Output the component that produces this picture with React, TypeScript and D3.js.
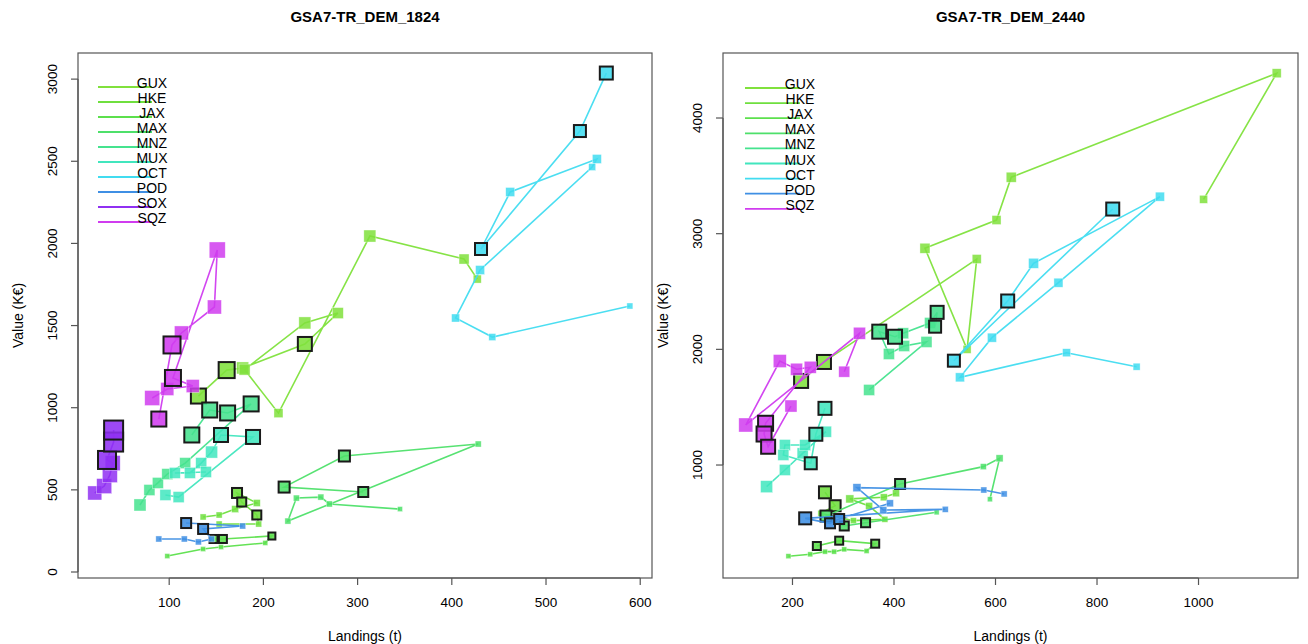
import React from 'react';
import * as d3 from 'd3';

// One point = [landings (t), value (K€), fishing effort index, recent year flag]
type Pt = [number, number, number, number];

const SPECIES = ['GUX', 'HKE', 'JAX', 'MAX', 'MNZ', 'MUX', 'OCT', 'POD', 'SOX', 'SQZ'];
const SPECIES_COLORS = ['#80e13c', '#6fdf3e', '#5ce04c', '#4ee06a', '#45e38e', '#41e6be', '#41dcf0', '#3f8fe4', '#9030f2', '#d03cef'];

// ---- Fleet segment TR_DEM_1824 ----
const GUX_1824: Pt[] = [[131, 1071, 75, 1], [161, 1229, 80, 1], [178, 1242, 60, 0], [244, 1388, 70, 1], [279, 1576, 55, 0], [244, 1516, 60, 0], [180, 1232, 55, 0], [216, 967, 45, 0], [313, 2045, 60, 0], [413, 1905, 50, 0], [427, 1783, 40, 0]];
const HKE_1824: Pt[] = [[136, 335, 30, 0], [153, 347, 30, 0], [170, 383, 35, 0], [193, 420, 35, 0], [172, 481, 50, 1], [177, 426, 45, 1], [193, 347, 45, 1], [195, 292, 30, 0], [153, 292, 30, 0]];
const JAX_1824: Pt[] = [[98, 97, 25, 0], [136, 140, 25, 0], [155, 152, 25, 0], [202, 177, 25, 0], [209, 219, 35, 1], [157, 201, 40, 1], [147, 201, 40, 1]];
const MAX_1824: Pt[] = [[345, 383, 25, 0], [270, 414, 30, 0], [261, 456, 30, 0], [235, 450, 30, 0], [226, 310, 30, 0], [428, 779, 30, 0], [286, 706, 55, 1], [222, 517, 55, 1], [306, 487, 50, 1]];
const MNZ_1824: Pt[] = [[69, 408, 60, 0], [79, 499, 55, 0], [88, 542, 55, 0], [98, 596, 55, 0], [117, 663, 55, 0], [187, 1023, 75, 1], [162, 968, 75, 1], [143, 986, 75, 1], [124, 834, 75, 1]];
const MUX_1824: Pt[] = [[96, 469, 55, 0], [110, 456, 55, 0], [189, 822, 70, 1], [155, 834, 70, 1], [145, 730, 60, 0], [134, 663, 55, 0], [122, 603, 55, 0], [106, 603, 55, 0], [139, 609, 55, 0]];
const OCT_1824: Pt[] = [[564, 3037, 65, 1], [536, 2684, 60, 1], [431, 1966, 60, 1], [462, 2313, 45, 0], [554, 2514, 45, 0], [549, 2465, 35, 0], [430, 1838, 45, 0], [404, 1546, 40, 0], [443, 1430, 35, 0], [589, 1619, 30, 0]];
const POD_1824: Pt[] = [[89, 201, 30, 0], [116, 201, 30, 0], [131, 183, 30, 0], [145, 201, 30, 0], [136, 262, 50, 1], [178, 280, 30, 0], [118, 298, 50, 1]];
const SOX_1824: Pt[] = [[21, 481, 70, 0], [31, 523, 75, 0], [37, 590, 75, 0], [40, 663, 75, 0], [34, 682, 90, 1], [41, 791, 95, 1], [41, 864, 95, 1]];
const SQZ_1824: Pt[] = [[82, 1059, 75, 0], [98, 1114, 65, 0], [125, 1132, 65, 0], [104, 1181, 80, 1], [151, 1960, 80, 0], [148, 1613, 70, 0], [113, 1455, 70, 0], [103, 1382, 85, 1], [89, 931, 75, 1]];

// ---- Fleet segment TR_DEM_2440 ----
const GUX_2440: Pt[] = [[217, 1727, 70, 1], [262, 1891, 70, 1], [563, 2781, 45, 0], [544, 2000, 40, 0], [461, 2874, 50, 0], [602, 3118, 45, 0], [631, 3488, 50, 0], [1154, 4387, 45, 0], [1010, 3297, 40, 0]];
const HKE_2440: Pt[] = [[264, 764, 60, 1], [284, 648, 55, 1], [256, 583, 30, 0], [320, 519, 30, 0], [382, 531, 30, 0], [351, 646, 35, 0], [313, 707, 40, 0], [380, 721, 35, 0], [404, 756, 35, 0]];
const JAX_2440: Pt[] = [[192, 212, 25, 0], [235, 228, 25, 0], [264, 251, 25, 0], [282, 251, 25, 0], [302, 271, 25, 0], [346, 257, 25, 0], [363, 320, 40, 1], [292, 346, 40, 1], [248, 300, 40, 1]];
const MAX_2440: Pt[] = [[589, 704, 25, 0], [608, 1058, 35, 0], [576, 986, 30, 0], [412, 836, 50, 1], [266, 559, 55, 1], [302, 473, 45, 1], [344, 501, 45, 1], [484, 591, 25, 0]];
const MNZ_2440: Pt[] = [[351, 1649, 55, 0], [464, 2064, 55, 0], [420, 2029, 55, 0], [390, 1960, 55, 0], [371, 2153, 70, 1], [402, 2109, 70, 1], [418, 2139, 55, 0], [471, 2228, 55, 0], [485, 2320, 65, 1], [481, 2196, 60, 1]];
const MUX_2440: Pt[] = [[149, 813, 60, 0], [185, 957, 55, 0], [220, 1101, 55, 0], [266, 1288, 55, 0], [225, 1173, 55, 0], [185, 1173, 55, 0], [182, 1087, 55, 0], [236, 1015, 60, 1], [246, 1266, 65, 1], [264, 1490, 65, 1]];
const OCT_2440: Pt[] = [[878, 1850, 35, 0], [740, 1971, 40, 0], [530, 1758, 45, 0], [593, 2101, 45, 0], [724, 2576, 45, 0], [924, 3320, 45, 0], [675, 2744, 50, 0], [624, 2418, 65, 1], [518, 1902, 60, 1], [831, 3213, 65, 1]];
const POD_2440: Pt[] = [[617, 750, 30, 0], [577, 784, 30, 0], [327, 804, 40, 0], [379, 611, 35, 0], [501, 617, 30, 0], [225, 539, 60, 1], [274, 496, 50, 1], [292, 533, 50, 1], [392, 669, 35, 0]];
const SQZ_2440: Pt[] = [[302, 1807, 55, 0], [332, 2139, 60, 0], [108, 1346, 70, 0], [175, 1899, 65, 0], [208, 1828, 60, 0], [235, 1845, 60, 0], [147, 1361, 75, 1], [144, 1268, 75, 1], [152, 1158, 70, 1], [197, 1510, 60, 0]];

const X_TICKS_1824 = [100, 200, 300, 400, 500, 600];
const Y_TICKS_1824 = [0, 500, 1000, 1500, 2000, 2500, 3000];
const X_TICKS_2440 = [200, 400, 600, 800, 1000];
const Y_TICKS_2440 = [1000, 2000, 3000, 4000];

interface PanelCfg {
  title: string;
  series: Record<string, Pt[]>;
  xTicks: number[];
  yTicks: number[];
  xDomain: [number, number];
  yDomain: [number, number];
  left: number;
  right: number;
  top: number;
  bottom: number;
  legendX: [number, number];
  legendY0: number;
  legendStep: number;
}

const PANELS: PanelCfg[] = [
  {
    title: 'GSA7-TR_DEM_1824',
    series: { GUX: GUX_1824, HKE: HKE_1824, JAX: JAX_1824, MAX: MAX_1824, MNZ: MNZ_1824, MUX: MUX_1824, OCT: OCT_1824, POD: POD_1824, SOX: SOX_1824, SQZ: SQZ_1824 },
    xTicks: X_TICKS_1824,
    yTicks: Y_TICKS_1824,
    xDomain: [3.2, 612.5],
    yDomain: [-36.5, 3159],
    left: 78, right: 652, top: 53, bottom: 578,
    legendX: [98, 152], legendY0: 83, legendStep: 15,
  },
  {
    title: 'GSA7-TR_DEM_2440',
    series: { GUX: GUX_2440, HKE: HKE_2440, JAX: JAX_2440, MAX: MAX_2440, MNZ: MNZ_2440, MUX: MUX_2440, OCT: OCT_2440, POD: POD_2440, SQZ: SQZ_2440 },
    xTicks: X_TICKS_2440,
    yTicks: Y_TICKS_2440,
    xDomain: [63.1, 1196],
    yDomain: [23.3, 4562],
    left: 723, right: 1298, top: 53, bottom: 578,
    legendX: [745, 800], legendY0: 84, legendStep: 15.1,
  },
];

const FONT = '"Liberation Sans", Arial, Helvetica, sans-serif';
const colorOf = d3.scaleOrdinal<string, string>().domain(SPECIES).range(SPECIES_COLORS);
const sizeOf = d3.scaleLinear().domain([0, 100]).range([0, 20]);

function Panel({ cfg }: { cfg: PanelCfg }) {
  const x = d3.scaleLinear().domain(cfg.xDomain).range([cfg.left, cfg.right]);
  const y = d3.scaleLinear().domain(cfg.yDomain).range([cfg.bottom, cfg.top]);
  const line = d3.line<Pt>().x((d) => x(d[0])).y((d) => y(d[1]));
  const names = SPECIES.filter((s) => cfg.series[s]);
  const cx = (cfg.left + cfg.right) / 2;
  const cy = (cfg.top + cfg.bottom) / 2;
  const xt = cfg.xTicks;
  const yt = cfg.yTicks;

  return (
    <g>
      <text x={cx} y={22} textAnchor="middle" fontFamily={FONT} fontWeight="bold" fontSize={15}>{cfg.title}</text>

      {/* species trajectories */}
      {names.map((s) => {
        const pts = cfg.series[s];
        const c = colorOf(s);
        return (
          <g key={s}>
            <path d={line(pts) || ''} fill="none" stroke={c} strokeWidth={1.6} strokeOpacity={0.95} />
            {pts.filter((p) => !p[3]).map((p, i) => {
              const w = sizeOf(p[2]);
              return <rect key={'n' + i} x={x(p[0]) - w / 2} y={y(p[1]) - w / 2} width={w} height={w} fill={c} fillOpacity={0.85} stroke="#ffffff" strokeOpacity={0.6} strokeWidth={0.6} />;
            })}
            {pts.filter((p) => p[3]).map((p, i) => {
              const w = sizeOf(p[2]);
              return <rect key={'o' + i} x={x(p[0]) - w / 2} y={y(p[1]) - w / 2} width={w} height={w} fill={c} fillOpacity={0.88} stroke="#1a1a1a" strokeWidth={2} />;
            })}
          </g>
        );
      })}

      {/* frame */}
      <rect x={cfg.left} y={cfg.top} width={cfg.right - cfg.left} height={cfg.bottom - cfg.top} fill="none" stroke="#555" strokeWidth={1.2} />

      {/* x axis */}
      <line x1={x(xt[0])} x2={x(xt[xt.length - 1])} y1={cfg.bottom} y2={cfg.bottom} stroke="#555" strokeWidth={1.2} />
      {xt.map((t) => (
        <g key={'x' + t}>
          <line x1={x(t)} x2={x(t)} y1={cfg.bottom} y2={cfg.bottom + 7} stroke="#555" strokeWidth={1.2} />
          <text x={x(t)} y={cfg.bottom + 29} textAnchor="middle" fontFamily={FONT} fontSize={13.5}>{t}</text>
        </g>
      ))}
      <text x={cx} y={641} textAnchor="middle" fontFamily={FONT} fontSize={14}>Landings (t)</text>

      {/* y axis */}
      <line x1={cfg.left} x2={cfg.left} y1={y(yt[0])} y2={y(yt[yt.length - 1])} stroke="#555" strokeWidth={1.2} />
      {yt.map((t) => (
        <g key={'y' + t}>
          <line x1={cfg.left - 7} x2={cfg.left} y1={y(t)} y2={y(t)} stroke="#555" strokeWidth={1.2} />
          <text transform={`translate(${cfg.left - 21},${y(t)}) rotate(-90)`} textAnchor="middle" fontFamily={FONT} fontSize={13.5}>{t}</text>
        </g>
      ))}
      <text transform={`translate(${cfg.left - 55},${cy}) rotate(-90)`} textAnchor="middle" fontFamily={FONT} fontSize={14}>Value (K€)</text>

      {/* legend */}
      {names.map((s, i) => {
        const ry = cfg.legendY0 + i * cfg.legendStep;
        return (
          <g key={'l' + s}>
            <line x1={cfg.legendX[0]} x2={cfg.legendX[1]} y1={ry + 4} y2={ry + 4} stroke={colorOf(s)} strokeWidth={1.8} />
            <text x={cfg.legendX[1]} y={ry + 5} textAnchor="middle" fontFamily={FONT} fontSize={14}>{s}</text>
          </g>
        );
      })}
    </g>
  );
}

export default function App() {
  return (
    <svg width={1308} height={644} viewBox="0 0 1308 644" style={{ position: 'absolute', left: 0, top: 0, background: '#fff' }}>
      <rect x={0} y={0} width={1308} height={644} fill="#fff" />
      {PANELS.map((p) => (
        <Panel key={p.title} cfg={p} />
      ))}
    </svg>
  );
}
